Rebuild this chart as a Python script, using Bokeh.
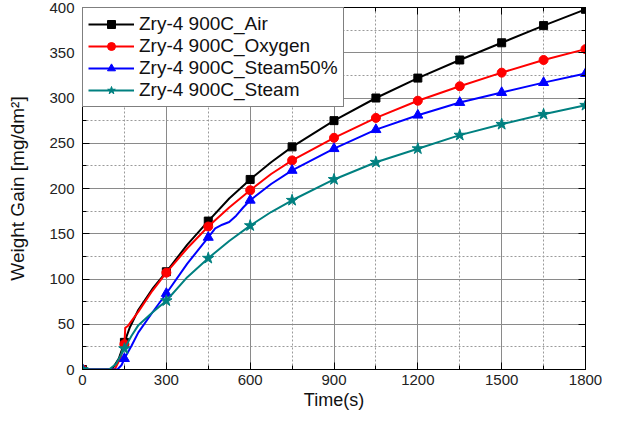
from bokeh.plotting import figure
from bokeh.models import Range1d, SingleIntervalTicker, LinearAxis
from bokeh.embed import file_html
from bokeh.resources import INLINE

# ---- data ----
series_names = ["Zry-4 900C_Air", "Zry-4 900C_Oxygen", "Zry-4 900C_Steam50%", "Zry-4 900C_Steam"]
series_colors = ["#000000", "#ff0000", "#0000ff", "#008080"]
series_markers = ["square", "circle", "triangle", "star"]

# marker times (s)
marker_t = [0, 150, 300, 450, 600, 750, 900, 1050, 1200, 1350, 1500, 1650, 1800]
air_m = [0, 30, 108, 164, 210, 246, 275, 300, 322, 342, 361, 380, 398]
oxy_m = [0, 28, 107, 158, 198, 231, 256, 278, 297, 313, 328, 342, 354]
s50_m = [0, 12, 84, 146, 187, 220, 244, 265, 281, 295, 306, 317, 327]
stm_m = [0, 23, 76, 123, 159, 187, 210, 229, 244, 259, 271, 282, 292]

# continuous curves (s, mg/dm^2)
air_t = [0, 105, 130, 150, 170, 200, 250, 300, 375, 450, 525, 600, 675, 750, 900, 1050, 1200, 1350, 1500, 1650, 1800]
air_v = [0, 0, 12, 30, 47, 66, 89, 108, 138, 164, 189, 210, 229, 246, 275, 300, 322, 342, 361, 380, 398]
oxy_t = [0, 115, 135, 150, 153, 162, 200, 250, 300, 375, 450, 525, 600, 675, 750, 900, 1050, 1200, 1350, 1500, 1650, 1800]
oxy_v = [0, 0, 12, 28, 46, 48, 64, 87, 107, 134, 158, 179, 198, 216, 231, 256, 278, 297, 313, 328, 342, 354]
s50_t = [0, 125, 140, 150, 175, 200, 250, 300, 375, 450, 475, 500, 525, 550, 575, 600, 675, 750, 900, 1050, 1200, 1350, 1500, 1650, 1800]
s50_v = [0, 0, 5, 12, 26, 41, 63, 84, 117, 146, 156, 160, 163, 170, 179, 187, 205, 220, 244, 265, 281, 295, 306, 317, 327]
stm_t = [0, 95, 120, 150, 175, 200, 250, 300, 375, 450, 525, 600, 675, 750, 900, 1050, 1200, 1350, 1500, 1650, 1800]
stm_v = [0, 0, 6, 23, 37, 49, 63, 76, 102, 123, 142, 159, 174, 187, 210, 229, 244, 259, 271, 282, 292]

x_ticks_interval = 300
y_ticks_interval = 50

FONT = "Liberation Sans"

p = figure(width=602, height=412, output_backend="svg", toolbar_location=None,
           x_range=Range1d(0, 1800), y_range=Range1d(0, 400),
           min_border_left=82, min_border_right=17, min_border_top=7, min_border_bottom=43)
p.background_fill_color = "white"
p.border_fill_color = "white"
p.outline_line_color = "black"
p.outline_line_width = 1

p.xaxis.ticker = SingleIntervalTicker(interval=x_ticks_interval, num_minor_ticks=2)
p.yaxis.ticker = SingleIntervalTicker(interval=y_ticks_interval, num_minor_ticks=2)

for ax in [p.xaxis[0], p.yaxis[0]]:
    ax.axis_line_color = "black"
    ax.major_tick_line_color = "black"
    ax.minor_tick_line_color = "black"
    ax.major_tick_in = 7
    ax.major_tick_out = 0
    ax.minor_tick_in = 4
    ax.minor_tick_out = 0
    ax.major_label_text_font = FONT
    ax.major_label_text_font_size = "15px"
    ax.major_label_text_color = "#222222"
    ax.axis_label_text_font = FONT
    ax.axis_label_text_font_size = "19px"
    ax.axis_label_text_font_style = "normal"
    ax.axis_label_text_color = "#111111"

p.xaxis.axis_label = "Time(s)"
p.yaxis.axis_label = "Weight Gain [mg/dm\u00b2]"
p.xaxis.axis_label_text_font_size = "18px"
p.xaxis.major_label_standoff = 5
p.xaxis.axis_label_standoff = 2
p.yaxis.major_label_standoff = 8
p.yaxis.axis_label_standoff = 18

# mirror axes (ticks only, labels not drawn)
top = LinearAxis(ticker=SingleIntervalTicker(interval=x_ticks_interval, num_minor_ticks=2))
right = LinearAxis(ticker=SingleIntervalTicker(interval=y_ticks_interval, num_minor_ticks=2))
for ax in [top, right]:
    ax.axis_line_color = "black"
    ax.major_tick_line_color = "black"
    ax.minor_tick_line_color = "black"
    ax.major_tick_in = 7
    ax.major_tick_out = 0
    ax.minor_tick_in = 4
    ax.minor_tick_out = 0
    ax.major_label_text_font_size = "0px"
    ax.major_label_text_color = None
    ax.major_label_text_alpha = 0
    ax.major_label_standoff = 0
p.add_layout(top, "above")
p.add_layout(right, "right")

# grids
for g in [p.xgrid[0], p.ygrid[0]]:
    g.grid_line_color = "#8a8a8a"
    g.grid_line_width = 1
    g.minor_grid_line_color = "#9a9a9a"
    g.minor_grid_line_dash = "2 2"
    g.minor_grid_line_width = 1

curves = [(air_t, air_v, air_m), (oxy_t, oxy_v, oxy_m), (s50_t, s50_v, s50_m), (stm_t, stm_v, stm_m)]
marker_sizes = {"square": 8, "circle": 9, "triangle": 10, "star": 12}
for (tt, vv, mm), name, col, mk in zip(curves, series_names, series_colors, series_markers):
    p.line(tt, vv, line_color=col, line_width=2, legend_label=name)
    p.scatter(marker_t, mm, marker=mk, size=marker_sizes[mk], fill_color=col, line_color=col,
              legend_label=name)

lg = p.legend[0]
lg.location = "top_left"
lg.margin = 0
lg.padding = 5
lg.spacing = 0
lg.glyph_width = 46
lg.glyph_height = 20
lg.label_height = 20
lg.label_standoff = 5
lg.label_text_font = FONT
lg.label_text_font_size = "19px"
lg.label_text_color = "#111111"
lg.border_line_color = "black"
lg.border_line_width = 1
lg.background_fill_alpha = 1.0

open("out.html", "w").write(file_html(p, INLINE))
